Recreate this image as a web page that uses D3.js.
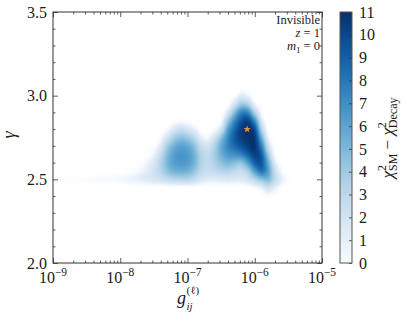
<!DOCTYPE html>
<html><head><meta charset="utf-8">
<script src="https://cdn.jsdelivr.net/npm/d3@7"></script>
<style>
body{margin:0;background:#fff}
svg{display:block}
text{font-family:"Liberation Serif","DejaVu Serif",serif;fill:#1a1a1a}
</style>
</head><body>
<svg id="chart" width="407" height="322"></svg>
<script>
// ---- data ----
const logG = [-9.0,-8.9,-8.8,-8.7,-8.6,-8.5,-8.4,-8.3,-8.2,-8.1,-8.0,-7.9,-7.8,-7.7,-7.6,-7.5,-7.4,-7.3,-7.2,-7.1,-7.0,
              -6.9,-6.8,-6.7,-6.6,-6.5,-6.4,-6.3,-6.2,-6.1,-6.0,-5.9,-5.8,-5.7,-5.6,-5.5,-5.4];
const gammaRows = [2.40,2.45,2.50,2.55,2.60,2.65,2.70,2.75,2.80,2.85,2.90,2.95,3.00,3.05];
// chi2 difference, one array per logG column, values for gammaRows (2.40 -> 3.05)
const chi2 = [
  [0,0,0.25,0,0,0,0,0,0,0,0,0,0,0],
  [0,0,0.28,0,0,0,0,0,0,0,0,0,0,0],
  [0,0,0.3,0,0,0,0,0,0,0,0,0,0,0],
  [0,0,0.33,0,0,0,0,0,0,0,0,0,0,0],
  [0,0,0.36,0,0,0,0,0,0,0,0,0,0,0],
  [0,0,0.4,0,0,0,0,0,0,0,0,0,0,0],
  [0,0,0.45,0,0,0,0,0,0,0,0,0,0,0],
  [0,0,0.5,0,0,0,0,0,0,0,0,0,0,0],
  [0,0,0.55,0.02,0,0,0,0,0,0,0,0,0,0],
  [0,0,0.6,0.05,0,0,0,0,0,0,0,0,0,0],
  [0,0,0.7,0.1,0,0,0,0,0,0,0,0,0,0],
  [0,0.02,0.8,0.2,0,0,0,0,0,0,0,0,0,0],
  [0,0.05,1.0,0.4,0.05,0,0,0,0,0,0,0,0,0],
  [0,0.1,1.2,0.8,0.3,0.05,0,0,0,0,0,0,0,0],
  [0,0.1,1.5,1.3,0.8,0.25,0.05,0,0,0,0,0,0,0],
  [0,0.15,1.8,2.1,1.7,0.9,0.3,0.05,0,0,0,0,0,0],
  [0,0.2,2.2,3.2,3.3,2.6,1.5,0.5,0.05,0,0,0,0,0],
  [0,0.2,2.7,4.5,5.1,4.8,3.8,2.0,0.6,0.05,0,0,0,0],
  [0,0.2,3.1,5.3,6.2,6.2,5.3,3.7,1.7,0.3,0,0,0,0],
  [0,0.2,3.3,5.5,6.5,6.6,6.0,4.5,2.4,0.5,0,0,0,0],
  [0,0.2,3.2,5.3,6.3,6.4,5.7,4.1,1.9,0.3,0,0,0,0],
  [0,0.2,2.7,4.4,5.3,5.3,4.5,3.0,1.1,0.1,0,0,0,0],
  [0,0.1,1.9,3.0,3.5,3.4,2.6,1.2,0.2,0,0,0,0,0],
  [0,0.1,1.4,2.5,2.9,2.8,2.0,0.7,0.05,0,0,0,0,0],
  [0,0.1,1.4,2.7,3.5,3.8,3.4,2.0,0.4,0.05,0,0,0,0],
  [0,0.1,1.5,3.2,4.5,5.4,5.6,4.4,2.0,0.5,0.05,0,0,0],
  [0,0.1,1.7,3.4,5.2,6.6,7.4,7.2,6.0,4.0,1.7,0.2,0,0],
  [0,0.1,1.5,3.0,4.8,7.0,8.6,9.2,8.6,7.2,4.8,2.0,0.3,0],
  [0,0.15,1.5,2.6,4.6,7.6,9.6,10.4,10.4,9.4,7.4,4.0,1.4,0.1],
  [0,0.3,2.1,3.8,6.4,9.0,10.4,10.9,11.0,10.0,7.2,3.4,0.9,0],
  [0.05,0.6,3.3,6.4,9.0,10.4,10.8,10.6,9.6,7.0,3.5,0.9,0.05,0],
  [0.2,1.2,4.5,8.2,9.4,9.0,7.6,5.6,3.5,1.8,0.5,0.05,0,0],
  [0.3,2.2,5.0,6.2,5.6,4.0,2.3,1.0,0.25,0,0,0,0,0],
  [0.2,1.2,2.8,2.5,1.4,0.5,0.15,0,0,0,0,0,0,0],
  [0.05,0.4,1.2,0.6,0.15,0,0,0,0,0,0,0,0,0],
  [0,0.05,0.35,0.05,0,0,0,0,0,0,0,0,0,0],
  [0,0,0.05,0,0,0,0,0,0,0,0,0,0,0]
];
const xTickExps = [-9,-8,-7,-6,-5];
const yTicks = [2.0,2.5,3.0,3.5];
const yTickLabels = ["2.0","2.5","3.0","3.5"];
const cbTicks = [0,1,2,3,4,5,6,7,8,9,10,11];
const bestFit = {g: 7.7e-7, gamma: 2.8};
const annot = ["Invisible"];

// ---- layout ----
const L = 53, R = 322, T = 12, B = 263;
const svg = d3.select("#chart");
const x = d3.scaleLog().domain([1e-9,1e-5]).range([L,R]);
const y = d3.scaleLinear().domain([2,3.5]).range([B,T]);
const vmax = 11;
// Blues colour map; values fading to zero blend into the white background
const lut = d3.range(256).map(k => {
  const v = k/255*vmax;
  const c = d3.rgb(d3.interpolateBlues(v/vmax));
  const a = Math.min(v/1.2, 1);
  return [Math.round(255+(c.r-255)*a), Math.round(255+(c.g-255)*a), Math.round(255+(c.b-255)*a)];
});

// ---- heatmap rendered pixel by pixel (bicubic shading of the grid) ----
const nC = logG.length, nR = gammaRows.length;
const stepL = logG[1]-logG[0], stepG = gammaRows[1]-gammaRows[0];
function val(i,j){ if(i<0||i>=nC||j<0||j>=nR) return 0; return chi2[i][j]; }
function cr(p0,p1,p2,p3,t){ return p1 + 0.5*t*(p2-p0 + t*(2*p0-5*p1+4*p2-p3 + t*(3*(p1-p2)+p3-p0))); }
function sample(fi,fj){
  const i = Math.floor(fi), j = Math.floor(fj), ti = fi-i, tj = fj-j;
  const cols = [];
  for (let m=-1;m<=2;m++) cols.push(cr(val(i+m,j-1),val(i+m,j),val(i+m,j+1),val(i+m,j+2),tj));
  return cr(cols[0],cols[1],cols[2],cols[3],ti);
}
const W = R-L, H = B-T;
const cvs = document.createElement("canvas"); cvs.width = W; cvs.height = H;
const ctx = cvs.getContext("2d");
const img = ctx.createImageData(W,H);
for (let py=0; py<H; py++) {
  const g = y.invert(T+py+0.5);
  const fj = (g-gammaRows[0])/stepG;
  for (let px=0; px<W; px++) {
    const lg = Math.log10(x.invert(L+px+0.5));
    const fi = (lg-logG[0])/stepL;
    let v = (fi < -0.5 || fi > nC-0.5 || fj < -1 || fj > nR) ? 0 : sample(fi,fj);
    v = Math.max(0, Math.min(vmax, v));
    const c = lut[Math.round(v/vmax*255)];
    const o = (py*W+px)*4;
    img.data[o]=c[0]; img.data[o+1]=c[1]; img.data[o+2]=c[2]; img.data[o+3]=255;
  }
}
ctx.putImageData(img,0,0);
svg.append("image").attr("href", cvs.toDataURL())
  .attr("x", L).attr("y", T).attr("width", W).attr("height", H);

// best fit star
svg.append("path")
  .attr("d", d3.symbol().type(d3.symbolStar).size(18)())
  .attr("transform", `translate(${x(bestFit.g)},${y(bestFit.gamma)})`)
  .attr("fill","#ee8f3a");

// ---- axes ----
const tickCol = "#333";
const majorX = xTickExps.map(e => Math.pow(10,e));
const minorX = [];
for (let e=-9;e<-5;e++) for (let k=2;k<=9;k++) minorX.push(k*Math.pow(10,e));
const minorY = d3.range(2.1,3.45,0.1).filter(v => Math.abs(v*2-Math.round(v*2))>1e-6);
function styl(g){ g.select(".domain").remove(); g.selectAll("line").attr("stroke",tickCol).attr("stroke-width",0.8); g.selectAll("text").remove(); }
svg.append("g").attr("transform",`translate(0,${B})`).call(d3.axisBottom(x).tickValues(majorX).tickSize(-5)).call(styl);
svg.append("g").attr("transform",`translate(0,${B})`).call(d3.axisBottom(x).tickValues(minorX).tickSize(-2.5)).call(styl);
svg.append("g").attr("transform",`translate(0,${T})`).call(d3.axisTop(x).tickValues(majorX).tickSize(-5)).call(styl);
svg.append("g").attr("transform",`translate(0,${T})`).call(d3.axisTop(x).tickValues(minorX).tickSize(-2.5)).call(styl);
svg.append("g").attr("transform",`translate(${L},0)`).call(d3.axisLeft(y).tickValues(yTicks).tickSize(-5)).call(styl);
svg.append("g").attr("transform",`translate(${L},0)`).call(d3.axisLeft(y).tickValues(minorY).tickSize(-2.5)).call(styl);
svg.append("g").attr("transform",`translate(${R},0)`).call(d3.axisRight(y).tickValues(yTicks).tickSize(-5)).call(styl);
svg.append("g").attr("transform",`translate(${R},0)`).call(d3.axisRight(y).tickValues(minorY).tickSize(-2.5)).call(styl);
svg.append("rect").attr("x",L).attr("y",T).attr("width",R-L).attr("height",B-T)
  .attr("fill","none").attr("stroke","#333").attr("stroke-width",1);

// tick labels
yTicks.forEach((v,i) => {
  svg.append("text").attr("x",47).attr("y",y(v)).attr("dy","0.35em")
    .attr("text-anchor","end").attr("font-size",16).text(yTickLabels[i]);
});
xTickExps.forEach(e => {
  const t = svg.append("text").attr("x",x(Math.pow(10,e))).attr("y",283)
    .attr("text-anchor","middle").attr("font-size",16);
  t.append("tspan").text("10");
  t.append("tspan").attr("dy",-7).attr("font-size",11.5).text("\u2212"+Math.abs(e));
});

// axis labels
svg.append("text").attr("transform","translate(15,135) rotate(-90)")
  .attr("text-anchor","middle").attr("font-size",18).attr("font-style","italic").text("\u03b3");
svg.append("text").attr("x",177).attr("y",304).attr("font-size",18).attr("font-style","italic").text("g");
svg.append("text").attr("x",186.5).attr("y",294).attr("font-size",11).text("(\u2113)");
svg.append("text").attr("x",186.5).attr("y",310).attr("font-size",11).attr("font-style","italic").text("ij");

// annotations
svg.append("text").attr("x",320).attr("y",23.5).attr("text-anchor","end").attr("font-size",12.5).text(annot[0]);
const t2 = svg.append("text").attr("x",320).attr("y",37).attr("text-anchor","end").attr("font-size",12.5);
t2.append("tspan").attr("font-style","italic").text("z");
t2.append("tspan").text(" = 1");
const t3 = svg.append("text").attr("x",320).attr("y",50).attr("text-anchor","end").attr("font-size",12.5);
t3.append("tspan").attr("font-style","italic").text("m");
t3.append("tspan").attr("font-size",9).attr("dy",2.5).text("1");
t3.append("tspan").attr("dy",-2.5).text(" = 0");

// ---- colorbar ----
const cbL = 340, cbR = 352;
const cy = d3.scaleLinear().domain([0,vmax]).range([B,T]);
const grad = svg.append("defs").append("linearGradient").attr("id","cbg")
  .attr("x1",0).attr("y1",1).attr("x2",0).attr("y2",0);
d3.range(0,1.0001,0.05).forEach(f => grad.append("stop").attr("offset",f).attr("stop-color",d3.interpolateBlues(f)));
svg.append("rect").attr("x",cbL).attr("y",T).attr("width",cbR-cbL).attr("height",B-T).attr("fill","url(#cbg)");
svg.append("g").attr("transform",`translate(${cbR},0)`).call(d3.axisLeft(cy).tickValues(cbTicks).tickSize(3)).call(styl);
svg.append("rect").attr("x",cbL).attr("y",T).attr("width",cbR-cbL).attr("height",B-T)
  .attr("fill","none").attr("stroke","#555").attr("stroke-width",1);
cbTicks.forEach(v => {
  svg.append("text").attr("x",359).attr("y",cy(v)).attr("dy","0.35em").attr("font-size",16).text(v);
});
const cl = svg.append("text").attr("transform","translate(393,138) rotate(-90)")
  .attr("text-anchor","middle").attr("font-size",17);
cl.append("tspan").attr("font-style","italic").text("\u03c7");
cl.append("tspan").attr("font-size",12).attr("dy",-7).text("2");
cl.append("tspan").attr("font-size",12).attr("dx",-6).attr("dy",11).text("SM");
cl.append("tspan").attr("dy",-4).text(" \u2212 ");
cl.append("tspan").attr("font-style","italic").text("\u03c7");
cl.append("tspan").attr("font-size",12).attr("dy",-7).text("2");
cl.append("tspan").attr("font-size",12).attr("dx",-6).attr("dy",11).text("Decay");
</script>
</body></html>
